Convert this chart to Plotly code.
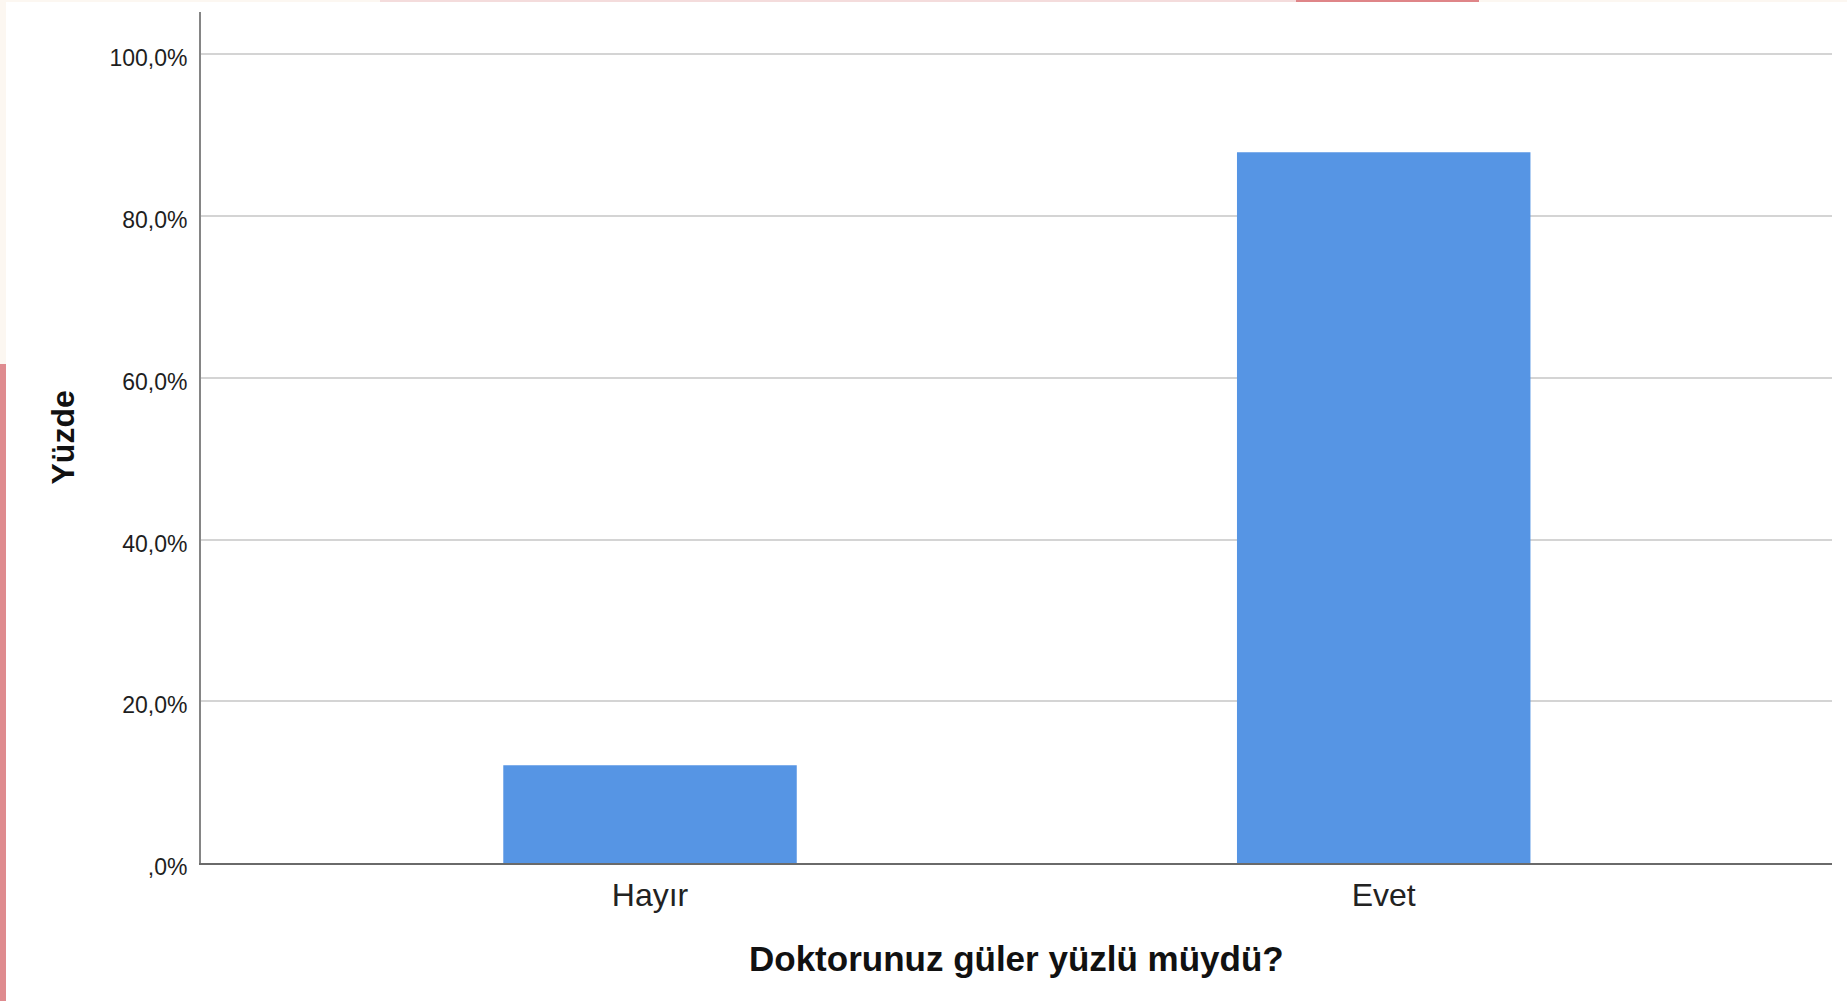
import plotly.graph_objects as go

# ---- data ----
categories = ["Hayır", "Evet"]
percent_values = [12.1, 87.9]
y_tick_values = [0, 20, 40, 60, 80, 100]
y_tick_labels = [",0%", "20,0%", "40,0%", "60,0%", "80,0%", "100,0%"]
x_title = "Doktorunuz güler yüzlü müydü?"
y_title = "Yüzde"

FONT = "Arial, 'Liberation Sans', Helvetica, sans-serif"
BAR_COLOR = "#5695e4"

W, H = 1847, 1001
ML, MR, MT, MB = 201, 15, 12, 138

fig = go.Figure()
fig.add_trace(go.Bar(
    x=[0, 1],
    y=percent_values,
    width=0.4,
    marker=dict(color=BAR_COLOR, line=dict(width=0)),
    hoverinfo="skip",
    showlegend=False,
))

fig.update_layout(
    width=W, height=H,
    margin=dict(l=ML, r=MR, t=MT, b=MB, pad=0),
    paper_bgcolor="white",
    plot_bgcolor="white",
    font=dict(family=FONT, color="#1e1e1e"),
    xaxis=dict(
        range=[-0.612, 1.611],
        tickmode="array",
        tickvals=[0, 1],
        ticktext=categories,
        tickfont=dict(size=32, color="#222222"),
        showgrid=False,
        zeroline=False,
        showline=True,
        linecolor="#6a6a6a",
        linewidth=2,
        ticks="",
        ticklabelstandoff=3,
    ),
    yaxis=dict(
        range=[0, 105.23],
        tickmode="array",
        tickvals=y_tick_values,
        ticktext=y_tick_labels,
        tickfont=dict(size=23, color="#1e1e1e"),
        showgrid=True,
        gridcolor="#d4d4d4",
        gridwidth=2,
        zeroline=False,
        showline=True,
        linecolor="#858585",
        linewidth=2,
        ticks="",
        ticklabelstandoff=7,
        ticklabelshift=4,
    ),
    annotations=[
        dict(
            text=f"<b>{x_title}</b>",
            xref="paper", yref="paper",
            x=0.5, y=0, yshift=-95,
            xanchor="center", yanchor="middle",
            showarrow=False,
            font=dict(size=35, color="#111111", family=FONT),
        ),
        dict(
            text=f"<b>{y_title}</b>",
            xref="paper", yref="paper",
            x=0, xshift=-139, y=0.5,
            xanchor="center", yanchor="middle",
            textangle=-90,
            showarrow=False,
            font=dict(size=32, color="#111111", family=FONT),
        ),
    ],
    shapes=[
        # screenshot edge artifacts
        dict(type="rect", xref="paper", yref="paper",
             x0=-ML / (W - ML - MR), x1=-(ML - 6) / (W - ML - MR),
             y0=-MB / (H - MT - MB), y1=(H - MB - 364) / (H - MT - MB),
             fillcolor="#df8b8f", line=dict(width=0), layer="above"),
        dict(type="rect", xref="paper", yref="paper",
             x0=-ML / (W - ML - MR), x1=-(ML - 6) / (W - ML - MR),
             y0=(H - MB - 364) / (H - MT - MB), y1=(H - MB) / (H - MT - MB),
             fillcolor="#fcf7f1", line=dict(width=0), layer="above"),
        dict(type="rect", xref="paper", yref="paper",
             x0=-ML / (W - ML - MR), x1=(W - ML) / (W - ML - MR),
             y0=(H - MB - 2) / (H - MT - MB), y1=(H - MB) / (H - MT - MB),
             fillcolor="#fcf7f1", line=dict(width=0), layer="above"),
        dict(type="rect", xref="paper", yref="paper",
             x0=(380 - ML) / (W - ML - MR), x1=(1296 - ML) / (W - ML - MR),
             y0=(H - MB - 2) / (H - MT - MB), y1=(H - MB) / (H - MT - MB),
             fillcolor="#f4dcdc", line=dict(width=0), layer="above"),
        dict(type="rect", xref="paper", yref="paper",
             x0=(1296 - ML) / (W - ML - MR), x1=(1479 - ML) / (W - ML - MR),
             y0=(H - MB - 2) / (H - MT - MB), y1=(H - MB) / (H - MT - MB),
             fillcolor="#df8588", line=dict(width=0), layer="above"),
    ],
)

fig.write_html(
    "out.html",
    config={"displayModeBar": False, "responsive": False},
    post_script="document.body.style.margin='0';document.body.style.overflow='hidden';",
)
